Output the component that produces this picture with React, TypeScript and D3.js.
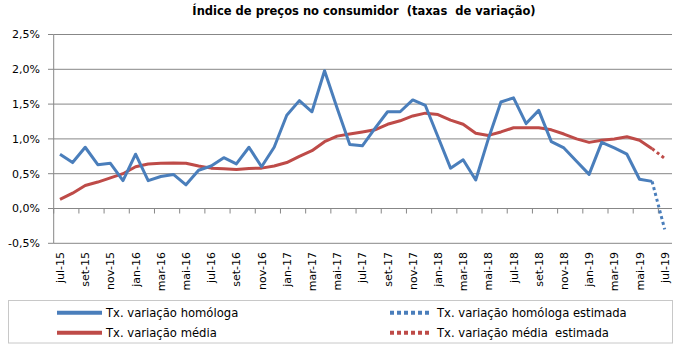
import React from "react";
import * as d3 from "d3";

const months: string[] = [
  "jul-15","ago-15","set-15","out-15","nov-15","dez-15",
  "jan-16","fev-16","mar-16","abr-16","mai-16","jun-16","jul-16","ago-16","set-16","out-16","nov-16","dez-16",
  "jan-17","fev-17","mar-17","abr-17","mai-17","jun-17","jul-17","ago-17","set-17","out-17","nov-17","dez-17",
  "jan-18","fev-18","mar-18","abr-18","mai-18","jun-18","jul-18","ago-18","set-18","out-18","nov-18","dez-18",
  "jan-19","fev-19","mar-19","abr-19","mai-19","jun-19","jul-19",
];

// Tx. variação homóloga (observed, jul-15 .. jun-19)
const homologa: number[] = [
  0.78, 0.66, 0.88, 0.63, 0.65, 0.40,
  0.78, 0.40, 0.46, 0.49, 0.34, 0.55, 0.61, 0.73, 0.64, 0.88, 0.60, 0.88,
  1.34, 1.55, 1.39, 1.98, 1.44, 0.92, 0.90, 1.15, 1.39, 1.39, 1.56, 1.48,
  1.03, 0.58, 0.70, 0.41, 1.00, 1.53, 1.59, 1.22, 1.41, 0.96, 0.87, 0.68,
  0.49, 0.95, 0.87, 0.78, 0.42, 0.39,
];
// Tx. variação média (observed, jul-15 .. jun-19)
const media: number[] = [
  0.13, 0.22, 0.33, 0.38, 0.44, 0.50,
  0.60, 0.64, 0.65, 0.655, 0.65, 0.61, 0.58, 0.57, 0.56, 0.575, 0.58, 0.61,
  0.66, 0.75, 0.83, 0.96, 1.04, 1.07, 1.10, 1.13, 1.21, 1.26, 1.33, 1.37,
  1.35, 1.27, 1.21, 1.08, 1.05, 1.10, 1.16, 1.16, 1.16, 1.13, 1.07, 1.00,
  0.95, 0.98, 1.00, 1.03, 0.98, 0.86,
];
// estimated (jun-19 .. jul-19)
const homologaEstimada: number[] = [0.39, -0.30];
const mediaEstimada: number[] = [0.86, 0.72];

const yTicks: number[] = [-0.5, 0, 0.5, 1.0, 1.5, 2.0, 2.5];

const BLUE = "#4a7ebb";
const RED = "#be4b48";
const GRID = "#878787";
const FONT = "'DejaVu Sans', Verdana, sans-serif";

export default function App() {
  const W = 680, H = 347;
  const left = 53.7, right = 671;
  const top = 34.5, bottom = 243.3;

  const x = d3.scalePoint<string>().domain(months).range([left, right]).padding(0.5);
  const step = x.step();
  const y = d3.scaleLinear().domain([-0.5, 2.5]).range([bottom, top]);

  const line = d3.line<[string, number]>()
    .x((d) => x(d[0]) as number)
    .y((d) => y(d[1]));

  const obsMonths = months.slice(0, homologa.length);
  const estMonths = months.slice(homologa.length - 1);

  const homPath = line(obsMonths.map((m, i) => [m, homologa[i]]))!;
  const medPath = line(obsMonths.map((m, i) => [m, media[i]]))!;
  const homEst = line(estMonths.map((m, i) => [m, homologaEstimada[i]]))!;
  const medEst = line(estMonths.map((m, i) => [m, mediaEstimada[i]]))!;

  const tickMonths = months.filter((_, i) => i % 2 === 0);
  const fmt = (v: number) => (v.toFixed(1).replace(".", ",")) + "%";
  const LFS = 11.6;

  return (
    <svg width={W} height={H} style={{ position: "absolute", left: 0, top: 0, background: "#fff" }}
      fontFamily={FONT}>
      <rect x={0} y={0} width={W} height={H} fill="#fff" />
      <text x={364} y={15} textAnchor="middle" fontWeight="bold" fontSize={11.5} fill="#000"
        style={{ whiteSpace: "pre" }}>
        Índice de preços no consumidor  (taxas  de variação)
      </text>

      {yTicks.map((t) => (
        <g key={t}>
          <line x1={left} x2={right + 1} y1={y(t)} y2={y(t)} stroke={GRID} strokeWidth={1} />
          <line x1={48} x2={left} y1={y(t)} y2={y(t)} stroke={GRID} strokeWidth={1} />
          <text x={40} y={y(t)} dy="0.35em" textAnchor="end" fontSize={11} fill="#000">{fmt(t)}</text>
        </g>
      ))}
      <line x1={left} x2={left} y1={top} y2={bottom} stroke={GRID} strokeWidth={1} />

      {tickMonths.map((m) => {
        const tx = (x(m) as number) - step / 2;
        return <line key={"t" + m} x1={tx} x2={tx} y1={y(0)} y2={y(0) + 5} stroke={GRID} strokeWidth={1} />;
      })}
      {tickMonths.map((m) => {
        const lx = (x(m) as number) + 4;
        return (
          <text key={"l" + m} transform={`translate(${lx},252) rotate(-90)`} textAnchor="end"
            fontSize={11} fill="#000">{m}</text>
        );
      })}

      <path d={medPath} fill="none" stroke={RED} strokeWidth={3} strokeLinejoin="round" />
      <path d={medEst} fill="none" stroke={RED} strokeWidth={3} strokeDasharray="3,3" />
      <path d={homPath} fill="none" stroke={BLUE} strokeWidth={3} strokeLinejoin="round" />
      <path d={homEst} fill="none" stroke={BLUE} strokeWidth={3} strokeDasharray="3,3" />

      <rect x={8.5} y={300.5} width={664} height={42.5} fill="none" stroke="#c8c8c8" strokeWidth={1} />
      <line x1={57} x2={102} y1={312.7} y2={312.7} stroke={BLUE} strokeWidth={4} />
      <text x={106} y={312.7} dy="0.35em" fontSize={LFS} fill="#000">Tx. variação homóloga</text>
      <line x1={57} x2={102} y1={332.7} y2={332.7} stroke={RED} strokeWidth={4} />
      <text x={106} y={332.7} dy="0.35em" fontSize={LFS} fill="#000">Tx. variação média</text>
      <line x1={390} x2={431} y1={312.7} y2={312.7} stroke={BLUE} strokeWidth={4} strokeDasharray="4,3" />
      <text x={437} y={312.7} dy="0.35em" fontSize={LFS} fill="#000">Tx. variação homóloga estimada</text>
      <line x1={390} x2={431} y1={332.7} y2={332.7} stroke={RED} strokeWidth={4} strokeDasharray="4,3" />
      <text x={437} y={332.7} dy="0.35em" fontSize={LFS} fill="#000" style={{ whiteSpace: "pre" }}>Tx. variação média  estimada</text>
    </svg>
  );
}
